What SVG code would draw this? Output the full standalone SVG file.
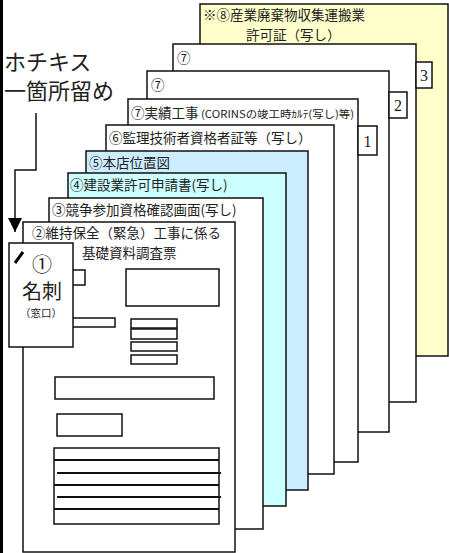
<svg xmlns="http://www.w3.org/2000/svg" width="449" height="553" viewBox="0 0 449 553">
<style>
.s{stroke:#111;stroke-width:1.5;fill:#fff}
.b{stroke:#111;stroke-width:1.5;fill:none}
.t{font-family:"Noto Sans CJK JP","Noto Sans",sans-serif;font-size:13.5px;fill:#222}
.n{font-family:"Liberation Serif",serif;font-size:16px;fill:#222;text-anchor:middle}
.ln{stroke:#111;stroke-width:2}
</style>
<defs>
<marker id="ah" viewBox="0 0 10 10" refX="10" refY="5" markerWidth="14" markerHeight="14" markerUnits="userSpaceOnUse" orient="auto">
<path d="M0,0 L10,5 L0,10 Z" fill="#000"/>
</marker>
</defs>
<rect x="0" y="0" width="3" height="553" fill="#000"/>

<g id="sheet8">
<rect class="s" x="200" y="4" width="248" height="352" style="fill:#FFFFCC"/>
<text class="t" x="203" y="20">※⑧産業廃棄物収集運搬業</text>
<text class="t" x="246" y="40">許可証（写し）</text>
</g>

<g id="sheet7b">
<rect class="s" x="173" y="44" width="243" height="358"/>
<text class="t" x="177" y="63">⑦</text>
<rect class="s" x="416" y="62" width="16" height="26"/>
<text class="n" x="424" y="81">3</text>
</g>

<g id="sheet7a">
<rect class="s" x="147" y="71" width="242" height="361"/>
<text class="t" x="151" y="90">⑦</text>
<rect class="s" x="389" y="92" width="18" height="26"/>
<text class="n" x="398" y="111">2</text>
</g>

<g id="sheet7">
<rect class="s" x="128" y="99" width="230" height="363"/>
<text class="t" x="131" y="118">⑦実績工事</text>
<text class="t" x="201" y="118" style="font-size:10.5px" textLength="153" lengthAdjust="spacingAndGlyphs">(CORINSの竣工時ｶﾙﾃ(写し)等)</text>
<rect class="s" x="358" y="126" width="19" height="29"/>
<text class="n" x="367.5" y="147">1</text>
</g>

<g id="sheet6">
<rect class="s" x="106" y="125" width="228" height="349"/>
<text class="t" x="109" y="143">⑥監理技術者資格者証等（写し）</text>
</g>

<g id="sheet5">
<rect class="s" x="86" y="151" width="222" height="339" style="fill:#CCECFF"/>
<text class="t" x="89" y="168">⑤本店位置図</text>
</g>

<g id="sheet4">
<rect class="s" x="68" y="173" width="218" height="333" style="fill:#CCFFFF"/>
<text class="t" x="70" y="190">④建設業許可申請書(写し)</text>
</g>

<g id="sheet3">
<rect class="s" x="49" y="198" width="214" height="331"/>
<text class="t" x="52" y="215">③競争参加資格確認画面(写し)</text>
</g>

<g id="sheet2">
<rect class="s" x="23" y="222" width="212" height="330"/>
<text class="t" x="32" y="238">②維持保全（緊急）工事に係る</text>
<text class="t" x="82" y="258">基礎資料調査票</text>
<rect class="b" x="55" y="270" width="30" height="15"/>
<rect class="b" x="126" y="269" width="93" height="37"/>
<rect class="b" x="55" y="318" width="60" height="9"/>
<rect class="b" x="131" y="319" width="46" height="9"/>
<rect class="b" x="131" y="329" width="46" height="10"/>
<rect class="b" x="131" y="342" width="46" height="9"/>
<rect class="b" x="131" y="355" width="46" height="9"/>
<rect class="b" x="55" y="377" width="159" height="22"/>
<rect class="b" x="57" y="414" width="65" height="22"/>
<rect class="b" x="54" y="448" width="165" height="76"/>
<line class="ln" x1="54" y1="460" x2="219" y2="460"/>
<line class="ln" x1="57" y1="473" x2="221" y2="473"/>
<line class="ln" x1="54" y1="485" x2="219" y2="485"/>
<line class="ln" x1="57" y1="497" x2="221" y2="497"/>
<line class="ln" x1="54" y1="509" x2="219" y2="509"/>
</g>

<g id="card1">
<rect class="s" x="9" y="243" width="64" height="104"/>
<line x1="15" y1="263" x2="23" y2="252" stroke="#000" stroke-width="3"/>
<text class="t" x="42" y="272" style="font-size:20px;text-anchor:middle">①</text>
<text class="t" x="42" y="299" style="font-size:20px;text-anchor:middle">名刺</text>
<text class="t" x="41" y="317" style="font-size:10.5px;text-anchor:middle">（窓口）</text>
</g>

<g id="label">
<text class="t" x="4" y="70" style="font-size:22px">ホチキス</text>
<text class="t" x="4" y="99" style="font-size:22px">一箇所留め</text>
</g>

<g id="connectors">
<polyline points="36,113 36,170 15,170 15,232" fill="none" stroke="#111" stroke-width="1.5" marker-end="url(#ah)"/>
</g>
</svg>
